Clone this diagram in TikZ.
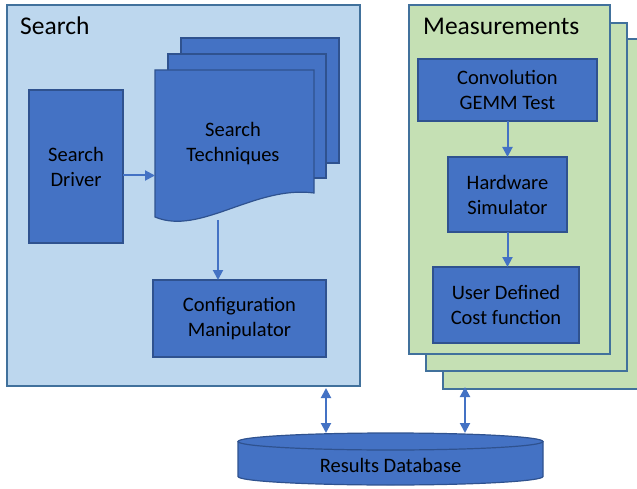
\documentclass[tikz,border=0pt]{standalone}
\usepackage{fontspec}
\setmainfont{Carlito}
\usetikzlibrary{arrows.meta}
\definecolor{bgblue}{HTML}{BDD7EE}
\definecolor{bggreen}{HTML}{C5E0B4}
\definecolor{boxblue}{HTML}{4472C4}
\definecolor{edgeblue}{HTML}{2F528F}
\definecolor{paneledge}{HTML}{41719C}
\begin{document}
\begin{tikzpicture}[x=1pt,y=-1pt,
  panel/.style={draw=paneledge, line width=1.3pt, anchor=north west, inner sep=0pt, outer sep=0pt},
  box/.style={draw=edgeblue, fill=boxblue, line width=1.2pt, anchor=north west, inner sep=0pt, outer sep=0pt, align=center, font=\fontsize{20.5}{25}\selectfont},
  page/.style={draw=edgeblue, fill=boxblue, line width=1.2pt},
  ttl/.style={anchor=base west, font=\fontsize{25.5}{30}\selectfont, inner sep=0pt},
  arr/.style={draw=boxblue, line width=2pt, -{Triangle[length=10pt,width=10pt]}},
  darr/.style={draw=boxblue, line width=2pt, {Triangle[length=10pt,width=10pt]}-{Triangle[length=10pt,width=10pt]}}
]
\clip (0,0) rectangle (637,489);
\fill[white] (0,0) rectangle (637,489);

% Search panel
\node[panel, fill=bgblue, minimum width=353pt, minimum height=381pt] (search) at (7,5) {};
\node[ttl] (searchttl) at (20,35) {Search};

% Search Driver
\node[box, minimum width=94pt, minimum height=153pt] (sd) at (29,90) {Search\\Driver};

% Search Techniques (multi-document)
\draw[page] (181,38) rectangle (339,163);
\draw[page] (168,54) rectangle (326,178);
\draw[page] (155,70) -- (314,70) -- (314,193)
  .. controls (255,185) and (200,236) .. (155,217) -- cycle;
\node[inner sep=0pt, outer sep=0pt, minimum width=159pt, minimum height=150pt, anchor=north west] (st) at (155,70) {};
\node[align=center, font=\fontsize{20.5}{25}\selectfont, inner sep=0pt] (sttext) at (233,144) {Search\\Techniques};

% Configuration Manipulator
\node[box, minimum width=173pt, minimum height=77pt] (cm) at (153,280) {Configuration\\Manipulator};

\draw[arr] ([yshift=-9pt]sd.east) -- ([yshift=-9pt]sd.east -| st.west);
\draw[arr] ([xshift=-16.5pt]st.south) -- ([xshift=-21.5pt]cm.north);

% Measurements stack
\draw[panel, fill=bggreen] (443,39) rectangle (660,389);
\node[panel, fill=bggreen, minimum width=201pt, minimum height=348pt] (m2) at (426,23) {};
\node[panel, fill=bggreen, minimum width=201pt, minimum height=349pt] (meas) at (409,5) {};
\coordinate (mback) at (465,389);
\node[ttl] (measttl) at (423,35) {Measurements};

\node[box, minimum width=179pt, minimum height=62pt] (conv) at (418,59) {Convolution\\GEMM Test};
\node[box, minimum width=119pt, minimum height=75pt] (hw) at (448,157) {Hardware\\Simulator};
\node[box, minimum width=146pt, minimum height=76pt] (cost) at (433,267) {User Defined\\Cost function};

\draw[arr] (conv.south -| hw.north) -- (hw.north);
\draw[arr] (hw.south) -- (hw.south |- cost.north);

% Database cylinder
\draw[page] (238,441.5) -- (238,476.5) arc[start angle=180, end angle=0, x radius=152.5, y radius=8.5]
  -- (543,441.5);
\draw[page] (390.5,441.5) ellipse[x radius=152.5, y radius=8.5];
\node[inner sep=0pt, outer sep=0pt, minimum width=305pt, minimum height=52pt, anchor=north west] (db) at (238,433) {};
\node[font=\fontsize{20.5}{25}\selectfont, inner sep=0pt] (dbtext) at (390.5,465) {Results Database};

\draw[darr] ([xshift=-34pt]search.south east) ++(0,2) -- ([xshift=-34pt]search.south east |- db.north);
\draw[darr] ([yshift=2pt]mback) -- (mback |- db.north);
\end{tikzpicture}
\end{document}
